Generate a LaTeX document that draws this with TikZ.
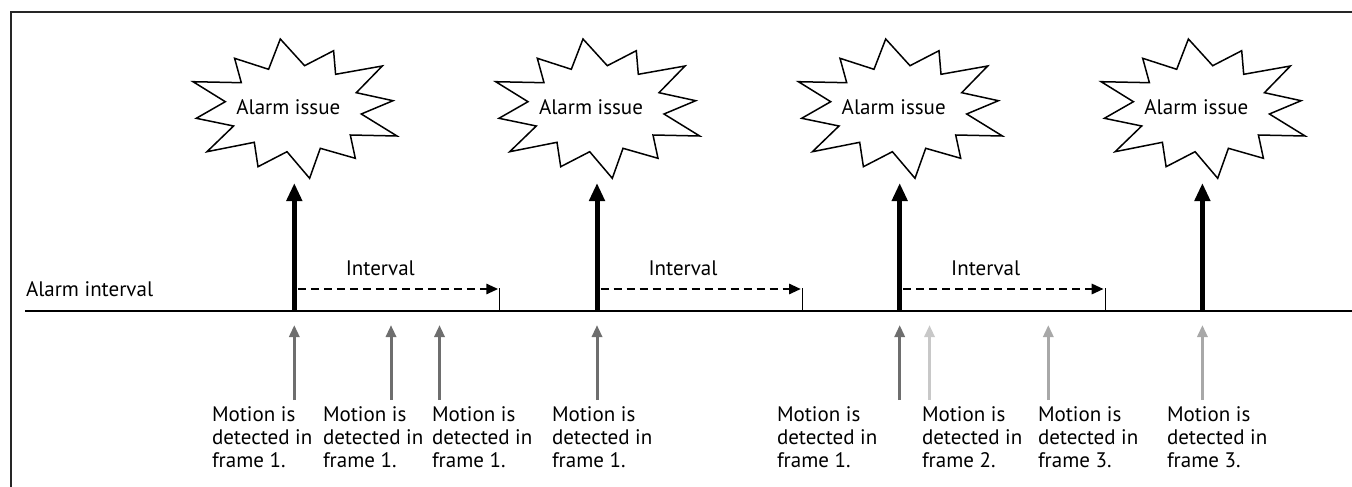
\documentclass[tikz,border=0pt]{standalone}
\usepackage{fontspec}
\setmainfont{PT Sans}
\usetikzlibrary{arrows.meta}
\definecolor{fone}{HTML}{6E6E6E}
\definecolor{ftwo}{HTML}{C8C8C8}
\definecolor{fthree}{HTML}{A8A8A8}
\tikzset{
  lbl/.style={font=\fontsize{21}{23.3}\selectfont, inner sep=0pt, outer sep=0pt},
  motion/.style={lbl, anchor=north west, align=left},
  alarmarrow/.style={line width=5pt, -{Triangle[length=18pt,width=15pt]}},
  detarrow/.style={line width=3pt, -{Triangle[length=12pt,width=10pt]}},
  intarrow/.style={line width=2.8pt, dash pattern=on 8pt off 5pt, -{Triangle[length=12pt,width=10pt]}},
  burst/.style={line width=1.5pt, fill=white},
}
\newcommand{\starburst}[1]{%
  \draw[burst] (#1) ++(-14,-69) -- ++(24.3,26.7) -- ++(29,-15) -- ++(2,23.6) -- ++(46.7,-8.3)
   -- ++(-26,26.7) -- ++(36.7,8) -- ++(-31.7,13.3) -- ++(35.7,22) -- ++(-46.7,-1) -- ++(5,23.3)
   -- ++(-35,-10) -- ++(-10.7,30) -- ++(-22.6,-26.6) -- ++(-29,15) -- ++(-3.7,-24.4)
   -- ++(-47.3,9.4) -- ++(26.6,-25.7) -- ++(-37.3,-7.7) -- ++(29,-16.6) -- ++(-32.3,-20)
   -- ++(48.3,1) -- ++(-6.7,-24.4) -- ++(34,11) -- cycle;}
\begin{document}
\begin{tikzpicture}[x=1pt,y=-1pt]
\useasboundingbox (0,0) rectangle (1352,487);
% frame
\draw[line width=1.5pt, color=black!85] (11,487) -- (11,12) -- (1352,12);
% baseline
\coordinate (b0) at (25,311);
\coordinate (b1) at (1352,311);
\draw[line width=1.5pt] (b0) -- (b1);
\node[lbl, anchor=base west] (alabel) at (26,296) {Alarm interval};

% alarm positions
\foreach \i/\x in {1/294.3, 2/597, 3/899.7, 4/1202.4} {
  \coordinate (base\i) at (\x,311);
  \coordinate (top\i) at (\x,183);
  \starburst{\x,108}
  \node[lbl] (alarm\i) at (\x-6,107) {Alarm issue};
  \draw[alarmarrow] (base\i) -- (top\i);
}
% intervals
\foreach \i/\x in {1/294.3, 2/597, 3/899.7} {
  \coordinate (is\i) at (\x+3.5,289);
  \coordinate (ie\i) at (\x+204,289);
  \coordinate (tk\i) at (\x+205.5,288);
  \coordinate (tb\i) at (\x+205.5,311);
  \draw[intarrow] (is\i) -- (ie\i);
  \draw[line width=1.2pt] (tk\i) -- (tb\i);
  \node[lbl] (int\i) at (\x+86,268) {Interval};
}
% detections
\foreach \j/\x/\c/\lx/\f in {1/294.3/fone/212/1, 2/391/fone/323/1, 3/439.5/fone/432/1, 4/597/fone/552/1, 5/899.7/fone/777/1, 6/929.5/ftwo/922/2, 7/1048.3/fthree/1038/3, 8/1202.4/fthree/1167/3} {
  \coordinate (ds\j) at (\x,400);
  \coordinate (de\j) at (\x,325);
  \draw[detarrow, color=\c] (ds\j) -- (de\j);
  \node[motion] (m\j) at (\lx,406.5) {Motion is\\detected in\\frame \f.};
}
\end{tikzpicture}
\end{document}
